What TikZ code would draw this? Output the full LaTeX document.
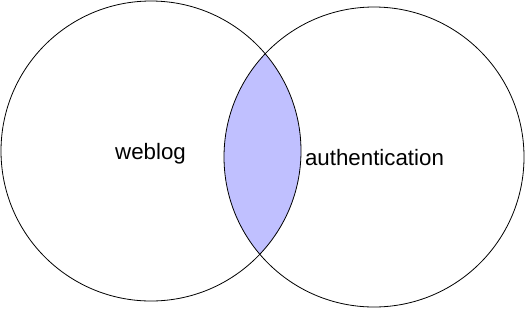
\documentclass[tikz,border=0pt]{standalone}
\usepackage{fontspec}
\setmainfont{Liberation Sans}
\definecolor{lensblue}{RGB}{192,192,255}
\begin{document}
\begin{tikzpicture}[x=1pt, y=-1pt, line width=0.8pt]
  \useasboundingbox (0,0) rectangle (526,309);
  % Centres of the two sets
  \coordinate (weblogc) at (151,151);
  \coordinate (authc) at (374,157);

  % Shaded intersection
  \begin{scope}
    \clip (weblogc) circle[radius=150pt];
    \fill[lensblue] (authc) circle[radius=150pt];
  \end{scope}

  % Circles
  \draw (weblogc) circle[radius=150pt];
  \draw (authc) circle[radius=150pt];

  % Labels
  \node[anchor=base, inner sep=0pt, font=\fontsize{22.3}{26}\selectfont] (weblog) at (150.5,159) {weblog};
  \node[anchor=base, inner sep=0pt, font=\fontsize{22.3}{26}\selectfont] (auth) at (374.5,165) {authentication};
\end{tikzpicture}
\end{document}
